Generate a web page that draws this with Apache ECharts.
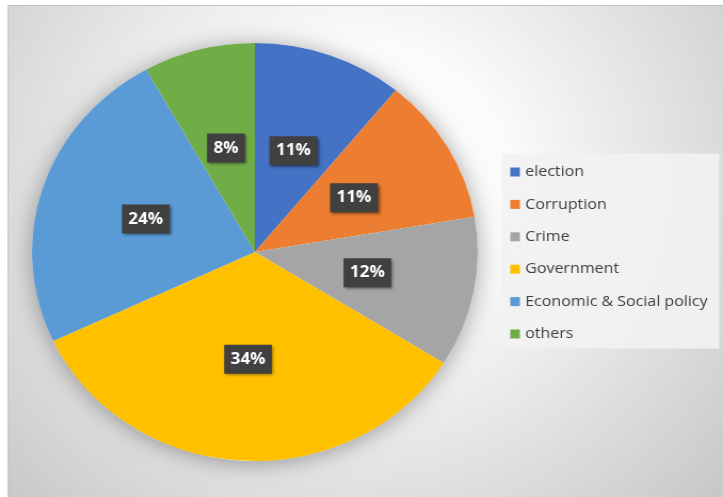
<!DOCTYPE html>
<html>
<head>
<meta charset="utf-8">
<script src="https://cdn.jsdelivr.net/npm/echarts@6/dist/echarts.min.js"></script>
<style>
  html, body { margin: 0; padding: 0; background: #ffffff; overflow: hidden; }
  #wrap { width: 723px; height: 497px; overflow: hidden; position: relative; }
  /* the reference picture is stretched horizontally (ellipse pie), reproduce that stretch */
  #chart { width: 678px; height: 497px; transform: scaleX(1.0664); transform-origin: 0 0; }
</style>
</head>
<body>
<div id="wrap"><div id="chart"></div></div>
<script>
// ---- data ----
const categories = ['election', 'Corruption', 'Crime', 'Government', 'Economic & Social policy', 'others'];
const shares = [10.9, 11.4, 11.6, 34.1, 23.9, 8.1];
const sliceColors = ['#4472C4', '#ED7D31', '#A5A5A5', '#FFC000', '#5B9BD5', '#70AD47'];

const chart = echarts.init(document.getElementById('chart'), null, { renderer: 'canvas' });

const pieData = categories.map((c, i) => ({ name: c, value: shares[i], itemStyle: { color: sliceColors[i] } }));

const option = {
  backgroundColor: '#ffffff',
  animation: false,
  graphic: [
    {
      type: 'rect',
      z: -10,
      shape: { x: 7.5, y: 5.5, width: 680, height: 500 },
      style: {
        fill: new echarts.graphic.RadialGradient(337, 185, 470, [
          { offset: 0, color: '#ffffff' },
          { offset: 0.3, color: '#fbfbfb' },
          { offset: 0.75, color: '#d9d9d9' },
          { offset: 1, color: '#c6c6c6' }
        ], true),
        stroke: '#c4c4c4',
        lineWidth: 1
      },
      silent: true
    },
    {
      type: 'rect',
      z: -5,
      shape: { x: 470.5, y: 153.5, width: 204, height: 195 },
      style: { fill: 'rgba(242,242,242,0.9)' },
      silent: true
    }
  ],
  legend: {
    orient: 'vertical',
    left: 478.5,
    top: 163,
    padding: 0,
    icon: 'rect',
    itemWidth: 9,
    itemHeight: 9,
    itemGap: 14.4,
    selectedMode: false,
    data: categories,
    textStyle: { color: '#404040', fontSize: 15, lineHeight: 18, fontFamily: 'Open Sans' }
  },
  series: [
    {
      type: 'pie',
      name: 'shadow',
      center: [239, 252],
      radius: 209,
      silent: true,
      z: 1,
      label: { show: false },
      labelLine: { show: false },
      itemStyle: { color: '#ffffff', shadowBlur: 22, shadowColor: 'rgba(0,0,0,0.35)', shadowOffsetY: 2 },
      data: [{ name: '', value: 1 }]
    },
    {
      type: 'pie',
      name: 'share',
      center: [239, 252],
      radius: 209,
      startAngle: 90,
      clockwise: true,
      z: 2,
      itemStyle: { borderWidth: 0 },
      label: {
        show: true,
        position: 'inside',
        formatter: p => Math.round(p.percent) + '%',
        color: '#ffffff',
        fontFamily: 'Open Sans',
        fontWeight: 'bold',
        fontSize: 16,
        lineHeight: 19,
        backgroundColor: '#404040',
        padding: [6, 6, 4, 6],
        shadowBlur: 3,
        shadowOffsetX: 1.5,
        shadowOffsetY: 1.5,
        shadowColor: 'rgba(0,0,0,0.55)'
      },
      labelLine: { show: false },
      emphasis: { disabled: true },
      data: pieData
    }
  ]
};

chart.setOption(option);
</script>
</body>
</html>
